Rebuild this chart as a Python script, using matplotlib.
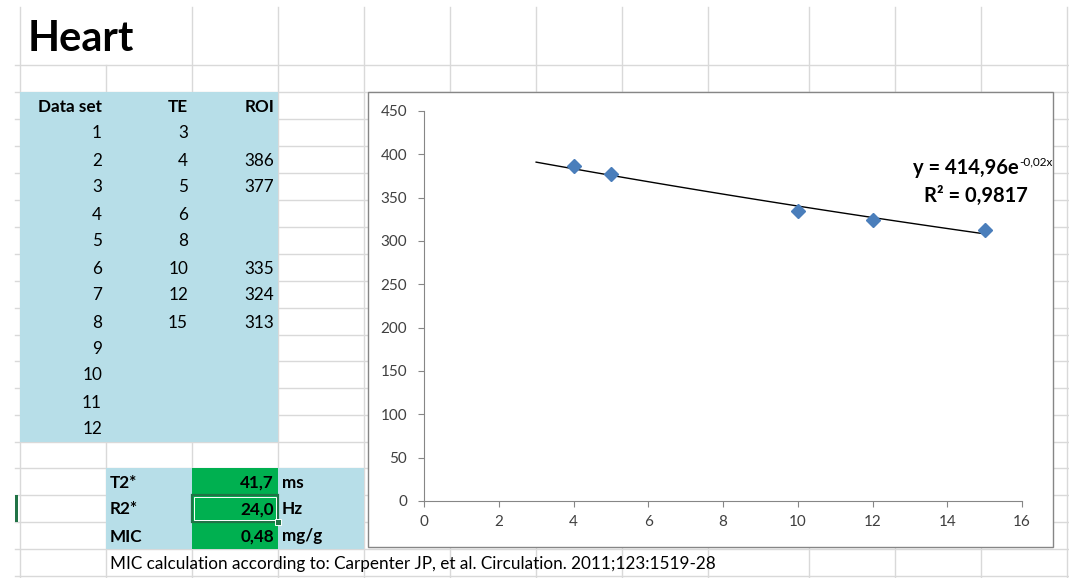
import numpy as np
import matplotlib
matplotlib.use("Agg")
import matplotlib.pyplot as plt
from matplotlib.patches import Rectangle

plt.rcParams["font.family"] = ["Lato", "DejaVu Sans"]

# Tabelle
data_set = [1, 2, 3, 4, 5, 6, 7, 8, 9, 10, 11, 12]
te = [3, 4, 5, 6, 8, 10, 12, 15]
roi = [None, 386, 377, None, None, 335, 324, 313]

ergebnis_namen = ["T2*", "R2*", "MIC"]
ergebnis_werte = ["41,7", "24,0", "0,48"]
ergebnis_einheiten = ["ms", "Hz", "mg/g"]

trend_text = "y = 414,96e"
trend_exponent = "-0,02x"
r2_text = "R² = 0,9817"
quelle = "MIC calculation according to: Carpenter JP, et al. Circulation. 2011;123:1519-28"

x_ticks = [0, 2, 4, 6, 8, 10, 12, 14, 16]
y_ticks = [0, 50, 100, 150, 200, 250, 300, 350, 400, 450]

# Gitter der Tabelle (Pixel)
spalten = [20, 106, 192, 278, 364, 450, 536, 622, 708, 809, 895, 981, 1067]
zeilen = [65, 92, 119, 146, 173, 200, 227, 254, 281, 308, 335, 361, 388,
          415, 442, 468, 495, 522, 549, 576]

gitter_farbe = "#d9d9d9"
blau = "#b7dee8"
gruen = "#00b050"
dunkelgruen = "#217346"
grau = "#868686"

fig = plt.figure(figsize=(10.69, 5.78), dpi=100)
bg = fig.add_axes([0, 0, 1, 1])
bg.set_xlim(0, 1069)
bg.set_ylim(578, 0)
bg.axis("off")

for y in zeilen:
    bg.plot([15, 1069], [y, y], color=gitter_farbe, lw=1, zorder=1)
for x in spalten:
    start = 65 if x == 106 else 7
    bg.plot([x, x], [start, 578], color=gitter_farbe, lw=1, zorder=1)

# Farbige Zellen
bg.add_patch(Rectangle((20, 92), 258, 350, facecolor=blau, edgecolor="none", zorder=2))
bg.add_patch(Rectangle((106, 468), 258, 81, facecolor=blau, edgecolor="none", zorder=2))
bg.add_patch(Rectangle((192, 468), 86, 81, facecolor=gruen, edgecolor="none", zorder=3))

# markierte Zelle
bg.add_patch(Rectangle((192, 495), 86, 27, facecolor="none", edgecolor=dunkelgruen, lw=1.6, zorder=4))
bg.add_patch(Rectangle((194, 497), 82, 23, facecolor="none", edgecolor="white", lw=0.7, zorder=4))
bg.add_patch(Rectangle((275, 519), 6, 6, facecolor=dunkelgruen, edgecolor="white", lw=0.7, zorder=5))
bg.add_patch(Rectangle((15, 495), 3, 27, facecolor=dunkelgruen, edgecolor="none", zorder=4))

fs = 12.3
bg.text(28, 39, "Heart", fontsize=30, fontweight="bold", va="center", ha="left", zorder=5)

zeile_mitte = [(zeilen[i] + zeilen[i + 1]) / 2 + 1 for i in range(len(zeilen) - 1)]

bg.text(102, zeile_mitte[1], "Data set", fontsize=fs, fontweight="bold", ha="right", va="center", zorder=5)
bg.text(188, zeile_mitte[1], "TE", fontsize=fs, fontweight="bold", ha="right", va="center", zorder=5)
bg.text(274, zeile_mitte[1], "ROI", fontsize=fs, fontweight="bold", ha="right", va="center", zorder=5)

for i, nr in enumerate(data_set):
    bg.text(102, zeile_mitte[2 + i], str(nr), fontsize=fs, ha="right", va="center", zorder=5)
for i, t in enumerate(te):
    bg.text(188, zeile_mitte[2 + i], str(t), fontsize=fs, ha="right", va="center", zorder=5)
    if roi[i] is not None:
        bg.text(274, zeile_mitte[2 + i], str(roi[i]), fontsize=fs, ha="right", va="center", zorder=5)

for i in range(3):
    ym = zeile_mitte[15 + i]
    bg.text(110, ym, ergebnis_namen[i], fontsize=fs, fontweight="bold", ha="left", va="center", zorder=5)
    bg.text(274, ym, ergebnis_werte[i], fontsize=fs, fontweight="bold", ha="right", va="center", zorder=5)
    bg.text(282, ym, ergebnis_einheiten[i], fontsize=fs, fontweight="bold", ha="left", va="center", zorder=5)

bg.text(110, zeile_mitte[18], quelle, fontsize=fs, ha="left", va="center", zorder=5)

# Diagramm-Rahmen
bg.add_patch(Rectangle((368, 92), 685, 455, facecolor="white", edgecolor=grau, lw=1, zorder=6))

ax = fig.add_axes([424 / 1069, (578 - 501) / 578, 598 / 1069, 390 / 578])
ax.set_zorder(10)
ax.patch.set_alpha(0)

x = np.array([t for t, r in zip(te, roi) if r is not None], dtype=float)
y = np.array([r for r in roi if r is not None], dtype=float)

# exponentieller Trend wie in Excel
b, ln_a = np.polyfit(x, np.log(y), 1)
x_trend = np.linspace(min(te), max(te), 100)
y_trend = np.exp(ln_a) * np.exp(b * x_trend)

ax.plot(x_trend, y_trend, color="black", lw=1, zorder=2)
ax.plot(x, y, linestyle="none", marker="D", markersize=7, color="#4a7ebb", zorder=3)

ax.set_xlim(0, 16)
ax.set_ylim(0, 450)
ax.set_xticks(x_ticks)
ax.set_yticks(y_ticks)
for s in ["top", "right"]:
    ax.spines[s].set_visible(False)
for s in ["left", "bottom"]:
    ax.spines[s].set_color(grau)
ax.tick_params(direction="out", length=4, color=grau, labelcolor="#404040", labelsize=11)
ax.tick_params(axis="y", pad=8)
ax.tick_params(axis="x", pad=6)

t1 = bg.text(1019, 174, trend_text, fontsize=14.5, fontweight="bold", ha="right", va="baseline", zorder=12)
bg.annotate(trend_exponent, xy=(1.0, 0.8), xycoords=t1, fontsize=8.5, ha="left", va="center", zorder=12)
bg.text(976, 202, r2_text, fontsize=14.5, fontweight="bold", ha="center", va="baseline", zorder=12)

fig.savefig("out.png", dpi=100)
